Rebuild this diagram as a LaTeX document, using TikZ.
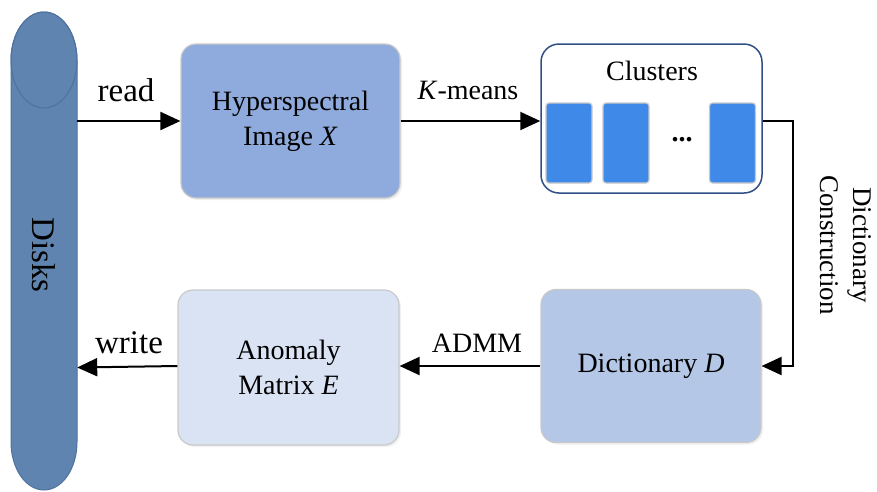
\documentclass[tikz,border=0pt]{standalone}
\usepackage{fontspec}
\setmainfont{Liberation Serif}
\usetikzlibrary{arrows.meta,shadows}
\definecolor{diskfill}{HTML}{5F84B0}
\definecolor{diskline}{HTML}{4E729E}
\definecolor{hsifill}{HTML}{8FAADC}
\definecolor{dicfill}{HTML}{B4C7E7}
\definecolor{anofill}{HTML}{DAE3F3}
\definecolor{boxline}{HTML}{C9C9C9}
\definecolor{cluline}{HTML}{2F4F86}
\definecolor{cellfill}{HTML}{3F8AE8}
\tikzset{
  txt/.style={font=\fontsize{28}{35}\selectfont, inner sep=0pt},
  bigtxt/.style={font=\fontsize{33}{40}\selectfont, inner sep=0pt},
  procbox/.style={draw=boxline, line width=1.2pt, rounded corners=15pt, align=center,
    font=\fontsize{28}{35}\selectfont, inner sep=0pt,
    drop shadow={opacity=0.12, shadow xshift=2pt, shadow yshift=-2pt}},
  cell/.style={draw=boxline, line width=1.2pt, fill=cellfill, rounded corners=3pt,
    minimum width=46pt, minimum height=80pt, inner sep=0pt},
  arr/.style={line width=2pt, -{Triangle[length=20pt,width=18pt]}},
  conn/.style={line width=2pt}
}
\begin{document}
\begin{tikzpicture}[x=1pt,y=1pt]
\useasboundingbox (0,0) rectangle (877,-491);
% disk
\node[minimum width=66pt, minimum height=478pt, inner sep=0pt] (disk) at (44,-251) {};
\path[fill=diskfill, draw=diskline, line width=1pt]
  (11,-60) -- (11,-442) arc[start angle=180, end angle=360, x radius=33, y radius=48]
  -- (77,-60) arc[start angle=0, end angle=180, x radius=33, y radius=48] -- cycle;
\draw[diskline, line width=1pt] (44,-60) ellipse[x radius=33, y radius=48];
\node[bigtxt, rotate=-90] (disklabel) at (44,-255) {Disks};
% boxes
\node[procbox, fill=hsifill, minimum width=219pt, minimum height=154pt] (hsi) at (290.5,-121) {Hyperspectral\\Image \textit{X}};
\node[draw=cluline, line width=1.5pt, rounded corners=18pt, fill=white, minimum width=221pt, minimum height=149pt, inner sep=0pt] (clu) at (651.5,-118.5) {};
\node[txt] (clutitle) at (652,-71) {Clusters};
\node[cell] (c1) at (569,-143) {};
\node[cell] (c2) at (626,-143) {};
\node[cell] (c3) at (732.5,-143) {};
\node[txt, font=\fontsize{28}{35}\selectfont\bfseries] (dots) at (682,-140) {...};
\node[procbox, fill=dicfill, minimum width=220pt, minimum height=153pt] (dic) at (651,-366) {Dictionary \textit{D}};
\node[procbox, fill=anofill, minimum width=221pt, minimum height=155pt] (ano) at (288.5,-367.5) {Anomaly\\Matrix \textit{E}};
% connectors
\draw[arr] (hsi.west -| disk.east) -- (hsi.west);
\draw[arr] (hsi.east) -- (clu.west |- hsi.east);
\draw[arr] (clu.east |- hsi.east) -- ++(30,0) |- (dic.east);
\draw[arr] (dic.west) -- (ano.east |- dic.west);
\draw[arr] (ano.west |- dic.west) -- (ano.west -| disk.east);
% labels
\node[bigtxt] (readlbl) at (126,-90) {read};
\node[bigtxt] (writelbl) at (129,-343) {write};
\node[txt] (kmlbl) at (468,-90) {\textit{K}-means};
\node[txt] (admmlbl) at (477,-343) {ADMM};
\node[txt, rotate=-90, align=center, font=\fontsize{27}{33}\selectfont] (dclbl) at (846,-245) {Dictionary\\Construction};
\end{tikzpicture}
\end{document}
